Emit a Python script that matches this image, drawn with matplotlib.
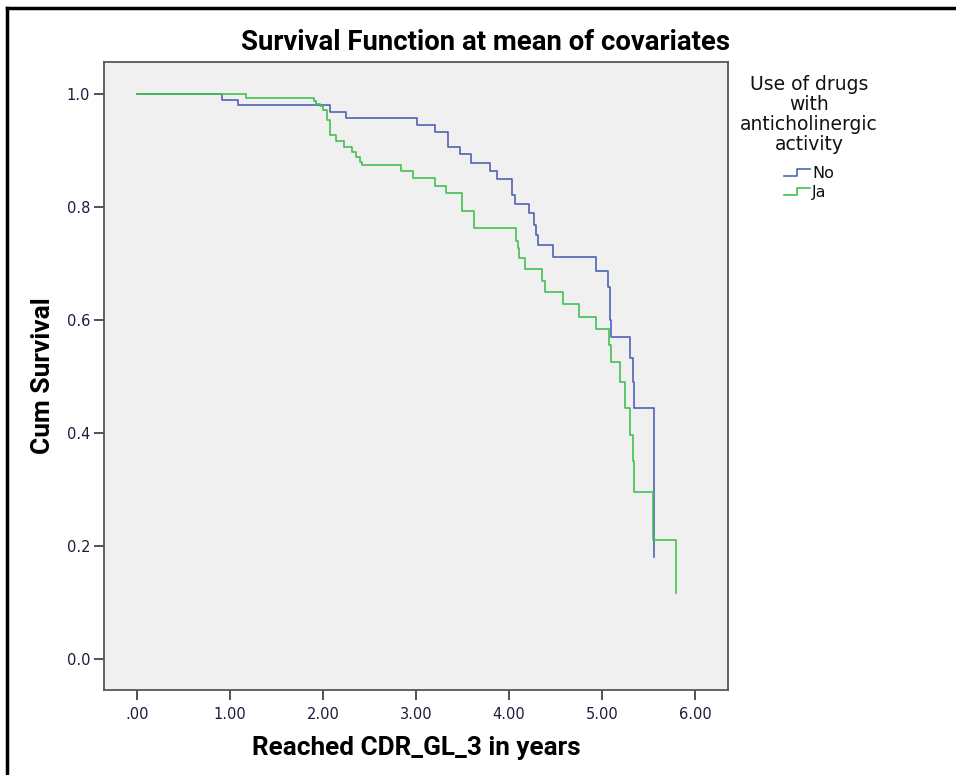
import matplotlib
matplotlib.use("Agg")
import matplotlib.pyplot as plt
from matplotlib.lines import Line2D
from matplotlib.legend_handler import HandlerLine2D
from matplotlib.ticker import FuncFormatter

# ---- data ----
no_times = [0.0, 0.91, 1.09, 2.07, 2.25, 3.01, 3.20, 3.34, 3.47, 3.59, 3.80, 3.87,
            4.03, 4.065, 4.22, 4.27, 4.29, 4.31, 4.47, 4.94, 5.06, 5.09, 5.10,
            5.30, 5.33, 5.34, 5.56]
no_surv = [1.0, 0.990, 0.980, 0.969, 0.958, 0.945, 0.932, 0.907, 0.894, 0.878, 0.864, 0.850,
           0.821, 0.805, 0.789, 0.768, 0.750, 0.732, 0.712, 0.687, 0.659, 0.600, 0.570,
           0.532, 0.490, 0.445, 0.181]

ja_times = [0.0, 1.17, 1.90, 1.93, 1.97, 2.00, 2.04, 2.075, 2.14, 2.23, 2.31, 2.355,
            2.40, 2.42, 2.84, 2.97, 3.20, 3.32, 3.49, 3.62, 4.08, 4.10, 4.11, 4.17,
            4.36, 4.39, 4.58, 4.75, 4.94, 5.08, 5.10, 5.19, 5.25, 5.30, 5.33, 5.34,
            5.545, 5.80]
ja_surv = [1.0, 0.993, 0.988, 0.983, 0.978, 0.972, 0.954, 0.927, 0.917, 0.907, 0.898, 0.888,
           0.880, 0.874, 0.864, 0.852, 0.838, 0.825, 0.793, 0.762, 0.740, 0.727, 0.709, 0.690,
           0.669, 0.649, 0.628, 0.606, 0.584, 0.555, 0.526, 0.491, 0.445, 0.396, 0.350, 0.296,
           0.211, 0.117]

series_labels = ["No", "Ja"]
x_ticks = [0, 1, 2, 3, 4, 5, 6]
y_ticks = [0.0, 0.2, 0.4, 0.6, 0.8, 1.0]

title = "Survival Function at mean of covariates"
xlabel = "Reached CDR_GL_3 in years"
ylabel = "Cum Survival"
legend_title = "Use of drugs\nwith\nanticholinergic\nactivity"

BLUE = "#5063b5"
GREEN = "#43c052"
TXT = "#1c1c3c"
BOLD_FAMILY = ["Roboto", "DejaVu Sans"]

fig = plt.figure(figsize=(9.56, 7.75), dpi=100)
fig.patch.set_facecolor("white")

# outer frame (top and left lines)
fig.add_artist(Line2D([7/956, 7/956], [0, 1 - 8/775], transform=fig.transFigure,
                      color="black", lw=2.5, solid_capstyle="projecting"))
fig.add_artist(Line2D([7/956, 1], [1 - 8/775, 1 - 8/775], transform=fig.transFigure,
                      color="black", lw=2.5, solid_capstyle="projecting"))

ax = fig.add_axes([104/956, 1 - 690/775, (728 - 104)/956, (690 - 62)/775])
ax.set_facecolor("#f0f0f0")

ax.plot(no_times, no_surv, drawstyle="steps-post", color=BLUE, lw=1.2, label=series_labels[0])
ax.plot(ja_times, ja_surv, drawstyle="steps-post", color=GREEN, lw=1.2, label=series_labels[1])

ax.set_xlim(-33/93, 6 + 33/93)
ax.set_ylim(-31/565, 1 + 32/565)
ax.set_xticks(x_ticks)
ax.set_yticks(y_ticks)
ax.xaxis.set_major_formatter(FuncFormatter(lambda v, p: (".00" if v == 0 else f"{v:.2f}")))
ax.yaxis.set_major_formatter(FuncFormatter(lambda v, p: f"{v:.1f}"))
ax.tick_params(axis="both", direction="out", length=7, width=1.3, color="#444444",
               labelsize=10.5, labelcolor=TXT, pad=3)
ax.tick_params(axis="x", pad=5)
for s in ax.spines.values():
    s.set_color("#555555")
    s.set_linewidth(1.3)

fig.text(485/956, 1 - 43/775, title, fontsize=19.8, fontweight="bold", family=BOLD_FAMILY,
         ha="center", va="center", color="black")
ax.set_xlabel(xlabel, fontsize=18.8, fontweight="bold", family=BOLD_FAMILY, labelpad=10)
ax.set_ylabel(ylabel, fontsize=19, fontweight="bold", family=BOLD_FAMILY, labelpad=8)


class StepHandler(HandlerLine2D):
    def create_artists(self, legend, orig_handle, xdescent, ydescent, width, height,
                       fontsize, trans):
        x0, x1 = -xdescent, -xdescent + width
        xm = (x0 + x1) / 2
        ylo = -ydescent + height * 0.15
        yhi = -ydescent + height * 0.85
        ln = Line2D([x0, xm, xm, x1], [ylo, ylo, yhi, yhi], color=orig_handle.get_color(),
                    lw=1.2)
        ln.set_transform(trans)
        return [ln]


handles, labels = ax.get_legend_handles_labels()
leg = fig.legend(handles, labels, loc="upper center", bbox_to_anchor=(809/956, 1 - 69/775),
                 frameon=False, title=legend_title, fontsize=11.5,
                 title_fontsize=13.5, handlelength=1.6, handletextpad=0.15,
                 labelspacing=0.25, borderaxespad=0,
                 handler_map={Line2D: StepHandler()})
leg.get_title().set_multialignment("center")
leg.get_title().set_linespacing(1.05)
leg.get_title().set_color("#111111")
leg._legend_box.sep = 9
for t in leg.get_texts():
    t.set_color("#111111")

fig.savefig("out.png", dpi=100, facecolor="white")
